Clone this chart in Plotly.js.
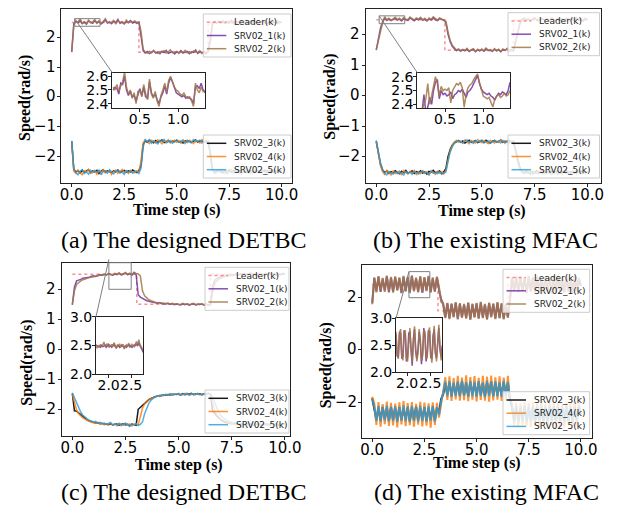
<!DOCTYPE html>
<html>
<head>
<meta charset="utf-8">
<script src="https://cdn.plot.ly/plotly-3.0.1.min.js"></script>
<style>html,body{margin:0;padding:0;background:#fff;}#chart{width:618px;height:506px;}</style>
</head>
<body>
<div id="chart"></div>
<script>
// ---------- data ----------
const SERIES_NAMES = ['Leader(k)', 'SRV02_1(k)', 'SRV02_2(k)', 'SRV02_3(k)', 'SRV02_4(k)', 'SRV02_5(k)'];
const CAPTIONS = ['(a) The designed DETBC', '(b) The existing MFAC', '(c) The designed DETBC', '(d) The existing MFAC'];
const X_TITLE = 'Time step (s)';
const Y_TITLE = 'Speed(rad/s)';
const X_TICKS = [0, 2.5, 5, 7.5, 10];
const X_TICKTEXT = ['0.0', '2.5', '5.0', '7.5', '10.0'];
const Y_TICKS_1 = [-2, -1, 0, 1, 2];
const Y_TICKTEXT_1 = ['\u22122', '\u22121', '0', '1', '2'];
const Y_TICKS_2 = [-2, 0, 2];
const Y_TICKTEXT_2 = ['\u22122', '0', '2'];
const INSET_X_TICKS_AB = [0.5, 1.0];
const INSET_X_TICKTEXT_AB = ['0.5', '1.0'];
const INSET_Y_TICKS_AB = [2.4, 2.5, 2.6];
const INSET_Y_TICKTEXT_AB = ['2.4', '2.5', '2.6'];
const INSET_X_TICKS_CD = [2.0, 2.5];
const INSET_X_TICKTEXT_CD = ['2.0', '2.5'];
const INSET_Y_TICKS_CD = [2.0, 2.5, 3.0];
const INSET_Y_TICKTEXT_CD = ['2.0', '2.5', '3.0'];

// time axis: 0.0 .. 10.0 s, step 0.1 s
const T = Array.from({length: 101}, (_, i) => +(i * 0.1).toFixed(1));
// inset time axes (step 0.025 s)
const T_INSET_AB = Array.from({length: 49}, (_, k) => +(0.15 + k * 0.025).toFixed(3));
const T_INSET_C = Array.from({length: 43}, (_, k) => +(1.72 + k * 0.025).toFixed(3));
const T_INSET_D = Array.from({length: 41}, (_, k) => +(1.76 + k * 0.025).toFixed(3));

// leader (square reference)
const LEADER_VAL = [2.5, 2.5, 1.5, 1.5, 2.5, 2.5];
const LEADER_T_A = [0, 3.2, 3.2, 6.5, 6.5, 10];
const LEADER_T_B = [0, 3.25, 3.25, 6.5, 6.5, 10];
const LEADER_T_C = [0, 3.03, 3.03, 6.5, 6.5, 10];
const LEADER_T_D = [0, 3.15, 3.15, 6.5, 6.5, 10];

// ---- panel (a) ----
const A1 = [1.50,2.46,2.53,2.49,2.57,2.46,2.52,2.44,2.55,2.50, 2.47,2.56,2.49,2.53,2.45,2.51,2.58,2.48,2.52,2.46, 2.54,2.49,2.60,2.47,2.51,2.45,2.53,2.50,2.56,2.48, 2.52,2.47,2.50,2.05,1.55,1.47,1.52,1.45,1.50,1.54, 1.47,1.51,1.45,1.53,1.49,1.56,1.46,1.50,1.52,1.44, 1.51,1.48,1.55,1.47,1.50,1.53,1.45,1.51,1.49,1.57, 1.46,1.52,1.48,1.50,1.45,1.53,1.95,2.45,2.52,2.47, 2.55,2.49,2.51,2.46,2.53,2.48,2.57,2.50,2.45,2.52, 2.49,2.54,2.47,2.51,2.46,2.55,2.50,2.48,2.53,2.47, 2.52,2.49,2.56,2.46,2.51,2.48,2.54,2.50,2.47,2.52,2.50];
const A2 = [1.52,2.40,2.55,2.51,2.62,2.48,2.50,2.46,2.58,2.49, 2.52,2.60,2.47,2.55,2.48,2.53,2.63,2.50,2.49,2.51, 2.57,2.46,2.55,2.50,2.53,2.47,2.58,2.49,2.52,2.51, 2.55,2.50,2.52,2.20,1.60,1.50,1.47,1.53,1.48,1.56, 1.49,1.46,1.52,1.50,1.55,1.47,1.51,1.58,1.48,1.50, 1.53,1.46,1.51,1.49,1.56,1.48,1.52,1.47,1.54,1.50, 1.48,1.55,1.46,1.52,1.49,1.51,1.85,2.42,2.55,2.49, 2.52,2.47,2.56,2.50,2.48,2.54,2.51,2.46,2.55,2.49, 2.53,2.48,2.51,2.57,2.49,2.50,2.46,2.54,2.52,2.48, 2.50,2.55,2.47,2.52,2.49,2.53,2.48,2.51,2.56,2.49,2.51];
const A3 = [-1.50,-2.45,-2.52,-2.48,-2.56,-2.47,-2.53,-2.50,-2.45,-2.55, -2.49,-2.52,-2.47,-2.58,-2.50,-2.46,-2.53,-2.49,-2.51,-2.55, -2.48,-2.52,-2.46,-2.54,-2.50,-2.47,-2.53,-2.49,-2.52,-2.46, -2.51,-2.55,-2.48,-2.30,-1.60,-1.48,-1.53,-1.46,-1.51,-1.55, -1.47,-1.52,-1.49,-1.45,-1.54,-1.50,-1.47,-1.53,-1.49,-1.51, -1.46,-1.52,-1.50,-1.55,-1.48,-1.51,-1.47,-1.53,-1.49,-1.45, -1.52,-1.50,-1.47,-1.53,-1.49,-1.51,-1.90,-2.44,-2.53,-2.48, -2.51,-2.47,-2.55,-2.49,-2.52,-2.46,-2.53,-2.50,-2.48,-2.54, -2.49,-2.52,-2.47,-2.51,-2.55,-2.48,-2.50,-2.53,-2.46,-2.52, -2.49,-2.51,-2.47,-2.54,-2.50,-2.48,-2.53,-2.49,-2.52,-2.47,-2.50];
const A4 = [-1.52,-2.50,-2.58,-2.46,-2.55,-2.62,-2.49,-2.53,-2.44,-2.57, -2.51,-2.47,-2.60,-2.49,-2.54,-2.45,-2.56,-2.52,-2.48,-2.61, -2.50,-2.46,-2.57,-2.51,-2.44,-2.55,-2.49,-2.58,-2.47,-2.53, -2.56,-2.48,-2.52,-2.15,-1.55,-1.44,-1.52,-1.57,-1.46,-1.50, -1.55,-1.45,-1.51,-1.58,-1.47,-1.52,-1.44,-1.55,-1.50,-1.46, -1.53,-1.48,-1.56,-1.45,-1.51,-1.54,-1.47,-1.50,-1.57,-1.46, -1.51,-1.55,-1.44,-1.50,-1.53,-1.48,-2.00,-2.50,-2.47,-2.56, -2.49,-2.53,-2.46,-2.58,-2.50,-2.52,-2.45,-2.55,-2.51,-2.48, -2.57,-2.49,-2.53,-2.46,-2.51,-2.56,-2.48,-2.52,-2.47,-2.55, -2.50,-2.46,-2.54,-2.49,-2.52,-2.57,-2.47,-2.51,-2.53,-2.48,-2.50];
const A5 = [-1.48,-2.42,-2.55,-2.62,-2.50,-2.45,-2.58,-2.52,-2.60,-2.47, -2.55,-2.49,-2.53,-2.46,-2.62,-2.51,-2.48,-2.57,-2.45,-2.53, -2.59,-2.50,-2.47,-2.56,-2.52,-2.61,-2.48,-2.54,-2.50,-2.57, -2.49,-2.52,-2.58,-2.40,-1.70,-1.45,-1.50,-1.44,-1.56,-1.48, -1.52,-1.58,-1.46,-1.50,-1.43,-1.55,-1.51,-1.47,-1.56,-1.49, -1.45,-1.53,-1.50,-1.47,-1.57,-1.46,-1.52,-1.55,-1.44,-1.51, -1.49,-1.46,-1.55,-1.51,-1.47,-1.54,-1.85,-2.40,-2.58,-2.50, -2.46,-2.55,-2.51,-2.48,-2.60,-2.49,-2.53,-2.47,-2.56,-2.50, -2.52,-2.58,-2.46,-2.54,-2.49,-2.51,-2.57,-2.47,-2.53,-2.50, -2.55,-2.48,-2.52,-2.46,-2.57,-2.51,-2.49,-2.54,-2.47,-2.52,-2.50];
const INSET_A1 = [2.50,2.52,2.51,2.47,2.55,2.54,2.60,2.50,2.46,2.49, 2.45,2.46,2.42,2.47,2.51,2.46,2.52,2.45,2.44,2.56, 2.48,2.45,2.47,2.43,2.40,2.45,2.48,2.53,2.47,2.55, 2.59,2.56,2.51,2.48,2.47,2.46,2.45,2.46,2.44,2.45, 2.44,2.43,2.40,2.52,2.53,2.51,2.55,2.50,2.48];
const INSET_A2 = [2.52,2.50,2.54,2.49,2.53,2.56,2.63,2.52,2.47,2.50, 2.44,2.48,2.40,2.49,2.50,2.45,2.54,2.47,2.43,2.58, 2.47,2.44,2.49,2.42,2.38,2.46,2.50,2.55,2.48,2.57, 2.60,2.55,2.52,2.50,2.49,2.47,2.46,2.48,2.45,2.44, 2.45,2.42,2.38,2.55,2.50,2.48,2.52,2.49,2.50];

// ---- panel (b) ----
const B1 = [1.50,1.88,2.22,2.43,2.56,2.48,2.53,2.47,2.51,2.55, 2.49,2.52,2.46,2.54,2.50,2.48,2.56,2.51,2.47,2.53, 2.50,2.55,2.48,2.52,2.46,2.53,2.49,2.57,2.50,2.47, 2.54,2.51,2.49,2.40,2.02,1.78,1.63,1.55,1.49,1.52, 1.47,1.51,1.48,1.54,1.46,1.50,1.53,1.45,1.51,1.48, 1.52,1.47,1.55,1.49,1.50,1.46,1.53,1.48,1.51,1.45, 1.52,1.49,1.54,1.47,1.50,1.48,1.80,2.15,2.38,2.49, 2.54,2.48,2.52,2.46,2.51,2.55,2.49,2.47,2.53,2.50, 2.48,2.52,2.46,2.55,2.50,2.47,2.53,2.49,2.51,2.46, 2.54,2.50,2.48,2.52,2.47,2.55,2.49,2.51,2.46,2.53,2.50];
const B2 = [1.52,1.82,2.18,2.40,2.60,2.50,2.55,2.49,2.53,2.58, 2.51,2.55,2.48,2.57,2.52,2.50,2.59,2.53,2.49,2.56, 2.52,2.58,2.50,2.55,2.48,2.56,2.51,2.60,2.53,2.49, 2.56,2.53,2.50,2.45,2.10,1.82,1.66,1.57,1.51,1.54, 1.48,1.53,1.50,1.56,1.47,1.52,1.55,1.46,1.53,1.49, 1.54,1.48,1.57,1.50,1.52,1.47,1.55,1.49,1.53,1.46, 1.54,1.50,1.56,1.48,1.52,1.49,1.76,2.10,2.35,2.50, 2.56,2.50,2.54,2.48,2.53,2.57,2.51,2.49,2.55,2.52, 2.50,2.54,2.48,2.57,2.52,2.49,2.55,2.51,2.53,2.48, 2.56,2.52,2.50,2.54,2.49,2.57,2.51,2.53,2.48,2.55,2.52];
const B3 = [-1.50,-1.90,-2.25,-2.44,-2.52,-2.47,-2.55,-2.49,-2.53,-2.46, -2.51,-2.56,-2.48,-2.52,-2.45,-2.54,-2.50,-2.47,-2.55,-2.49, -2.52,-2.46,-2.54,-2.50,-2.57,-2.48,-2.51,-2.45,-2.53,-2.50, -2.47,-2.55,-2.50,-2.38,-2.00,-1.76,-1.62,-1.54,-1.50,-1.47, -1.52,-1.48,-1.55,-1.49,-1.46,-1.53,-1.50,-1.47,-1.54,-1.51, -1.48,-1.53,-1.46,-1.51,-1.55,-1.49,-1.47,-1.52,-1.50,-1.45, -1.53,-1.49,-1.51,-1.47,-1.54,-1.50,-1.78,-2.12,-2.36,-2.48, -2.53,-2.47,-2.51,-2.56,-2.49,-2.52,-2.46,-2.54,-2.50,-2.48, -2.55,-2.49,-2.52,-2.46,-2.53,-2.50,-2.47,-2.55,-2.49,-2.51, -2.46,-2.53,-2.50,-2.48,-2.54,-2.49,-2.52,-2.47,-2.55,-2.50,-2.50];
const B4 = [-1.48,-1.95,-2.30,-2.50,-2.58,-2.45,-2.52,-2.60,-2.47,-2.55, -2.49,-2.53,-2.59,-2.46,-2.51,-2.57,-2.48,-2.54,-2.45,-2.58, -2.50,-2.56,-2.47,-2.53,-2.49,-2.61,-2.46,-2.52,-2.58,-2.48, -2.54,-2.49,-2.57,-2.45,-2.08,-1.80,-1.64,-1.52,-1.46,-1.53, -1.49,-1.56,-1.45,-1.52,-1.58,-1.47,-1.51,-1.55,-1.44,-1.50, -1.54,-1.47,-1.52,-1.57,-1.46,-1.50,-1.55,-1.48,-1.53,-1.44, -1.51,-1.56,-1.47,-1.53,-1.49,-1.55,-1.82,-2.18,-2.40,-2.52, -2.47,-2.55,-2.50,-2.58,-2.46,-2.53,-2.49,-2.57,-2.45,-2.52, -2.56,-2.48,-2.53,-2.59,-2.47,-2.51,-2.55,-2.46,-2.58,-2.50, -2.53,-2.47,-2.56,-2.49,-2.52,-2.58,-2.46,-2.54,-2.50,-2.55,-2.50];
const B5 = [-1.46,-1.85,-2.20,-2.42,-2.55,-2.60,-2.48,-2.53,-2.57,-2.50, -2.56,-2.47,-2.52,-2.60,-2.49,-2.55,-2.51,-2.58,-2.48,-2.53, -2.57,-2.50,-2.46,-2.55,-2.52,-2.59,-2.48,-2.54,-2.51,-2.56, -2.50,-2.58,-2.53,-2.50,-2.15,-1.85,-1.68,-1.56,-1.50,-1.46, -1.51,-1.55,-1.48,-1.45,-1.53,-1.50,-1.56,-1.47,-1.52,-1.49, -1.45,-1.54,-1.50,-1.48,-1.56,-1.51,-1.46,-1.53,-1.49,-1.55, -1.47,-1.52,-1.50,-1.55,-1.48,-1.53,-1.75,-2.10,-2.38,-2.50, -2.56,-2.49,-2.53,-2.47,-2.58,-2.51,-2.55,-2.48,-2.52,-2.57, -2.50,-2.54,-2.47,-2.56,-2.52,-2.49,-2.58,-2.51,-2.53,-2.48, -2.55,-2.50,-2.57,-2.52,-2.48,-2.54,-2.51,-2.56,-2.49,-2.53,-2.50];
const INSET_B1 = [2.30,2.33,2.35,2.47,2.34,2.38,2.45,2.40,2.50,2.56, 2.58,2.44,2.50,2.47,2.48,2.46,2.47,2.49,2.44,2.47, 2.48,2.50,2.49,2.51,2.48,2.45,2.49,2.50,2.52,2.55, 2.58,2.61,2.55,2.51,2.49,2.48,2.47,2.48,2.46,2.45, 2.43,2.46,2.48,2.47,2.49,2.48,2.47,2.50,2.56];
const INSET_B2 = [2.32,2.28,2.36,2.40,2.44,2.55,2.40,2.46,2.52,2.60, 2.55,2.46,2.53,2.50,2.51,2.50,2.52,2.41,2.50,2.53, 2.55,2.54,2.56,2.52,2.38,2.47,2.52,2.54,2.55,2.58, 2.60,2.62,2.56,2.50,2.46,2.45,2.44,2.45,2.42,2.38, 2.44,2.46,2.47,2.45,2.46,2.48,2.46,2.47,2.50];

// ---- panel (c) ----
const C1 = [1.48,2.08,2.28,2.30,2.33,2.37,2.38,2.41,2.40,2.44, 2.45,2.43,2.47,2.49,2.46,2.50,2.48,2.52,2.49,2.47, 2.51,2.49,2.53,2.48,2.50,2.54,2.49,2.52,2.47,2.55, 2.50,1.82,1.74,1.69,1.65,1.62,1.60,1.58,1.56,1.55, 1.54,1.56,1.52,1.53,1.51,1.54,1.50,1.52,1.49,1.51, 1.50,1.48,1.52,1.49,1.51,1.47,1.50,1.52,1.48,1.50, 1.49,1.51,1.47,1.50,1.46,1.49,2.10,2.30,2.36,2.40, 2.43,2.45,2.44,2.47,2.46,2.49,2.48,2.50,2.47,2.51, 2.49,2.52,2.48,2.50,2.53,2.49,2.51,2.48,2.52,2.50, 2.49,2.53,2.48,2.51,2.50,2.52,2.47,2.51,2.49,2.52,2.50];
const C2 = [1.50,1.95,2.16,2.23,2.28,2.32,2.35,2.37,2.39,2.40, 2.42,2.44,2.45,2.47,2.48,2.50,2.47,2.53,2.50,2.49, 2.53,2.50,2.55,2.49,2.52,2.56,2.50,2.54,2.49,2.57, 2.53,2.51,2.45,1.95,1.78,1.70,1.65,1.62,1.59,1.57, 1.56,1.55,1.54,1.55,1.52,1.53,1.51,1.53,1.50,1.52, 1.51,1.49,1.53,1.50,1.52,1.48,1.51,1.53,1.49,1.51, 1.50,1.52,1.48,1.51,1.47,1.50,1.90,2.18,2.28,2.34, 2.38,2.41,2.43,2.45,2.46,2.48,2.47,2.50,2.49,2.52, 2.50,2.53,2.49,2.51,2.54,2.50,2.52,2.49,2.53,2.51, 2.50,2.54,2.49,2.52,2.51,2.53,2.48,2.52,2.50,2.53,2.51];
const C3 = [-1.47,-2.05,-2.06,-2.12,-2.20,-2.26,-2.31,-2.36,-2.39,-2.42, -2.44,-2.46,-2.45,-2.48,-2.47,-2.50,-2.49,-2.51,-2.48,-2.52, -2.50,-2.49,-2.53,-2.51,-2.48,-2.52,-2.50,-2.54,-2.49,-2.51, -2.53,-2.00,-1.93,-1.86,-1.79,-1.73,-1.68,-1.64,-1.60,-1.58, -1.56,-1.54,-1.55,-1.52,-1.53,-1.51,-1.52,-1.50,-1.51,-1.49, -1.50,-1.52,-1.48,-1.51,-1.49,-1.50,-1.47,-1.51,-1.49,-1.50, -1.48,-1.51,-1.49,-1.50,-1.47,-1.50,-2.05,-2.12,-2.22,-2.30, -2.36,-2.40,-2.43,-2.45,-2.46,-2.48,-2.47,-2.50,-2.49,-2.51, -2.50,-2.52,-2.49,-2.51,-2.50,-2.53,-2.49,-2.51,-2.50,-2.52, -2.49,-2.51,-2.50,-2.53,-2.48,-2.51,-2.50,-2.52,-2.49,-2.51,-2.50];
const C4 = [-1.50,-1.78,-2.02,-2.15,-2.24,-2.29,-2.33,-2.37,-2.40,-2.43, -2.45,-2.47,-2.44,-2.49,-2.46,-2.52,-2.48,-2.50,-2.47,-2.53, -2.49,-2.51,-2.47,-2.55,-2.50,-2.48,-2.52,-2.49,-2.56,-2.50, -2.48,-2.52,-2.25,-1.96,-1.83,-1.75,-1.69,-1.64,-1.61,-1.58, -1.57,-1.55,-1.53,-1.54,-1.51,-1.53,-1.49,-1.52,-1.50,-1.48, -1.51,-1.49,-1.52,-1.47,-1.50,-1.53,-1.48,-1.50,-1.51,-1.49, -1.52,-1.48,-1.50,-1.51,-1.49,-1.50,-1.80,-2.05,-2.18,-2.27, -2.33,-2.38,-2.41,-2.44,-2.46,-2.47,-2.49,-2.48,-2.51,-2.50, -2.52,-2.49,-2.51,-2.53,-2.48,-2.50,-2.52,-2.49,-2.51,-2.50, -2.53,-2.49,-2.50,-2.52,-2.48,-2.51,-2.50,-2.53,-2.49,-2.50,-2.50];
const C5 = [-1.45,-1.62,-1.80,-1.95,-2.10,-2.20,-2.27,-2.32,-2.36,-2.39, -2.42,-2.40,-2.45,-2.43,-2.48,-2.46,-2.51,-2.47,-2.44,-2.52, -2.49,-2.55,-2.47,-2.50,-2.53,-2.46,-2.51,-2.57,-2.49,-2.52, -2.48,-2.54,-2.50,-2.42,-2.15,-1.95,-1.80,-1.70,-1.63,-1.58, -1.55,-1.57,-1.52,-1.54,-1.50,-1.53,-1.48,-1.52,-1.49,-1.51, -1.47,-1.52,-1.49,-1.50,-1.46,-1.53,-1.50,-1.48,-1.51,-1.47, -1.50,-1.52,-1.48,-1.51,-1.47,-1.50,-1.62,-1.80,-1.98,-2.12, -2.22,-2.29,-2.34,-2.38,-2.42,-2.44,-2.46,-2.45,-2.48,-2.50, -2.47,-2.52,-2.49,-2.51,-2.48,-2.53,-2.50,-2.49,-2.52,-2.50, -2.48,-2.51,-2.53,-2.49,-2.50,-2.52,-2.47,-2.51,-2.50,-2.49,-2.50];
const INSET_C1 = [2.51,2.50,2.48,2.49,2.47,2.50,2.48,2.49,2.51,2.47, 2.50,2.52,2.48,2.49,2.47,2.50,2.53,2.48,2.46,2.49, 2.50,2.47,2.49,2.51,2.48,2.46,2.50,2.47,2.49,2.52, 2.48,2.50,2.47,2.49,2.51,2.50,2.53,2.49,2.55,2.50, 2.46,2.42,2.38];
const INSET_C2 = [2.48,2.46,2.50,2.47,2.52,2.49,2.51,2.56,2.48,2.50, 2.53,2.47,2.51,2.49,2.52,2.48,2.55,2.50,2.45,2.51, 2.49,2.53,2.47,2.50,2.52,2.44,2.49,2.51,2.48,2.54, 2.50,2.47,2.52,2.50,2.48,2.53,2.57,2.51,2.60,2.52, 2.49,2.45,2.41];

// ---- panel (d) ----
const D1 = [1.80,2.75,2.25,2.80,2.22,2.72,2.28,2.82,2.20,2.76, 2.24,2.78,2.30,2.74,2.18,2.80,2.26,2.77,2.21,2.83, 2.27,2.73,2.23,2.79,2.19,2.76,2.28,2.81,2.22,2.74, 2.25,2.78,2.30,1.95,1.75,1.25,1.78,1.22,1.75,1.28, 1.80,1.20,1.76,1.26,1.72,1.23,1.79,1.18,1.74,1.27, 1.77,1.22,1.81,1.25,1.73,1.19,1.78,1.28,1.75,1.21, 1.80,1.24,1.76,1.20,1.74,1.26,1.95,2.75,2.25,2.80, 2.22,2.77,2.27,2.74,2.20,2.81,2.25,2.76,2.23,2.79, 2.28,2.73,2.21,2.80,2.26,2.75,2.19,2.78,2.24,2.82, 2.27,2.74,2.22,2.79,2.25,2.76,2.20,2.81,2.28,2.73,2.45];
const D2 = [1.75,2.78,2.20,2.83,2.25,2.76,2.22,2.85,2.24,2.80, 2.19,2.82,2.27,2.78,2.21,2.84,2.23,2.80,2.18,2.86, 2.24,2.77,2.20,2.83,2.22,2.79,2.25,2.84,2.19,2.78, 2.22,2.81,2.40,1.85,1.78,1.22,1.80,1.18,1.78,1.25, 1.83,1.17,1.79,1.23,1.76,1.20,1.82,1.15,1.77,1.24, 1.80,1.19,1.84,1.22,1.76,1.16,1.81,1.25,1.78,1.18, 1.83,1.21,1.79,1.17,1.77,1.23,1.90,2.78,2.22,2.83, 2.19,2.80,2.24,2.77,2.17,2.84,2.22,2.79,2.20,2.82, 2.25,2.76,2.18,2.83,2.23,2.78,2.16,2.81,2.21,2.85, 2.24,2.77,2.19,2.82,2.22,2.79,2.17,2.84,2.25,2.76,2.50];
const D3 = [-1.85,-2.20,-2.68,-2.22,-2.70,-2.18,-2.66,-2.24,-2.72,-2.20, -2.67,-2.23,-2.71,-2.19,-2.69,-2.25,-2.65,-2.21,-2.73,-2.22, -2.68,-2.18,-2.70,-2.24,-2.66,-2.20,-2.72,-2.23,-2.67,-2.19, -2.71,-2.22,-2.40,-1.90,-1.70,-1.28,-1.72,-1.25,-1.75,-1.30, -1.70,-1.26,-1.74,-1.22,-1.73,-1.29,-1.76,-1.24,-1.71,-1.27, -1.75,-1.23,-1.72,-1.28,-1.77,-1.25,-1.70,-1.21,-1.74,-1.26, -1.73,-1.29,-1.75,-1.24,-1.71,-1.27,-1.90,-2.22,-2.68,-2.20, -2.71,-2.24,-2.66,-2.19,-2.70,-2.23,-2.68,-2.21,-2.72,-2.25, -2.67,-2.20,-2.69,-2.22,-2.73,-2.18,-2.66,-2.24,-2.70,-2.21, -2.68,-2.23,-2.71,-2.19,-2.67,-2.25,-2.70,-2.22,-2.69,-2.20,-2.45];
const D4 = [-1.80,-2.05,-2.88,-2.00,-2.95,-2.08,-2.85,-1.98,-2.92,-2.03, -2.90,-2.06,-2.97,-2.01,-2.86,-1.96,-2.93,-2.04,-2.89,-2.00, -2.95,-2.07,-2.87,-1.99,-2.94,-2.02,-2.91,-2.05,-2.98,-2.01, -2.88,-2.03,-2.60,-2.00,-1.60,-1.05,-1.92,-1.02,-1.96,-1.08, -1.90,-1.00,-1.95,-1.06,-1.93,-0.98,-1.97,-1.04,-1.91,-1.01, -1.98,-1.07,-1.92,-1.00,-1.95,-1.03,-1.99,-0.99,-1.94,-1.05, -1.91,-1.02,-1.96,-1.06,-1.93,-1.00,-1.95,-2.05,-2.90,-2.02, -2.94,-2.06,-2.88,-1.99,-2.92,-2.04,-2.96,-2.01,-2.87,-2.05, -2.93,-2.00,-2.90,-2.07,-2.95,-2.02,-2.89,-1.98,-2.94,-2.03, -2.91,-2.06,-2.97,-2.00,-2.88,-2.04,-2.93,-2.01,-2.90,-2.05,-2.45];
const D5 = [-1.90,-2.17,-2.72,-2.15,-2.75,-2.20,-2.70,-2.14,-2.74,-2.18, -2.73,-2.16,-2.76,-2.19,-2.71,-2.13,-2.74,-2.17,-2.77,-2.15, -2.72,-2.18,-2.75,-2.14,-2.73,-2.19,-2.76,-2.16,-2.71,-2.15, -2.74,-2.20,-2.50,-1.95,-1.65,-1.22,-1.78,-1.20,-1.80,-1.25, -1.77,-1.21,-1.79,-1.18,-1.76,-1.24,-1.81,-1.19,-1.78,-1.23, -1.80,-1.20,-1.77,-1.25,-1.82,-1.18,-1.76,-1.22,-1.79,-1.21, -1.78,-1.24,-1.80,-1.19,-1.77,-1.22,-1.92,-2.18,-2.74,-2.16, -2.75,-2.20,-2.71,-2.14,-2.76,-2.18,-2.73,-2.15,-2.77,-2.19, -2.72,-2.16,-2.74,-2.20,-2.78,-2.14,-2.71,-2.17,-2.75,-2.18, -2.73,-2.19,-2.76,-2.15,-2.72,-2.20,-2.75,-2.16,-2.74,-2.18,-2.45];
const INSET_D1 = [2.70,2.30,2.28,2.75,2.72,2.25,2.30,2.78,2.70,2.20, 2.28,2.72,2.76,2.32,2.12,2.62,2.80,2.38,2.25,2.42, 2.75,2.55,2.15,2.36,2.82,2.68,2.20,2.35,2.78,2.76, 2.28,2.25,2.68,2.80,2.35,2.26,2.60,2.82,2.42,2.28, 2.50];
const INSET_D2 = [2.75,2.35,2.25,2.70,2.80,2.30,2.22,2.72,2.78,2.28, 2.20,2.65,2.82,2.40,2.18,2.55,2.85,2.45,2.20,2.35, 2.80,2.62,2.22,2.30,2.78,2.75,2.25,2.28,2.72,2.83, 2.35,2.18,2.60,2.86,2.42,2.20,2.52,2.88,2.50,2.22, 2.45];

// ---------- styling / layout ----------
const W = 618, H = 506;
const COLORS = ['rgba(255,70,70,0.6)', 'rgba(112,48,160,0.85)', 'rgba(160,118,70,0.85)',
                'rgba(0,0,0,0.9)', 'rgba(255,127,14,0.85)', 'rgba(40,155,220,0.8)'];

const PANELS = [
  {id: '',  ins: '5', px: [61, 292],    py: [9, 182.7],    xr: [-0.51, 10.49], yr: [-2.887, 2.951], lw: 1.5,
   S: [A1, A2, A3, A4, A5], LT: LEADER_T_A, IT: T_INSET_AB, IS: [INSET_A1, INSET_A2],
   ipx: [112.3, 205], ipy: [72.7, 107.7], ixr: [0.14, 1.35], iyr: [2.371, 2.626],
   yt: Y_TICKS_1, ytt: Y_TICKTEXT_1, ixt: INSET_X_TICKS_AB, ixtt: INSET_X_TICKTEXT_AB, iyt: INSET_Y_TICKS_AB, iytt: INSET_Y_TICKTEXT_AB,
   lg: {L: 203.3, R: 291, tops: [14, 135]},
   cap: [184, 240], xt: [177, 210], yti: [25, 98]},
  {id: '2', ins: '6', px: [365.7, 601.3], py: [9, 183],    xr: [-0.5, 10.66], yr: [-2.864, 2.854], lw: 1.5,
   S: [B1, B2, B3, B4, B5], LT: LEADER_T_B, IT: T_INSET_AB, IS: [INSET_B1, INSET_B2],
   ipx: [417.3, 510], ipy: [72.7, 108.3], ixr: [0.138, 1.349], iyr: [2.371, 2.629],
   yt: Y_TICKS_1, ytt: Y_TICKTEXT_1, ixt: INSET_X_TICKS_AB, ixtt: INSET_X_TICKTEXT_AB, iyt: INSET_Y_TICKS_AB, iytt: INSET_Y_TICKTEXT_AB,
   lg: {L: 508, R: 599.5, tops: [12.7, 135]},
   cap: [485.5, 240], xt: [482, 210.7], yti: [329.7, 97]},
  {id: '3', ins: '7', px: [61.7, 290],  py: [262.7, 436],  xr: [-0.5, 10.24], yr: [-2.89, 2.887], lw: 1.5,
   S: [C1, C2, C3, C4, C5], LT: LEADER_T_C, IT: T_INSET_C, IS: [INSET_C1, INSET_C2],
   ipx: [96, 143.3], ipy: [316.7, 374.3], ixr: [1.72, 2.77], iyr: [2.0, 3.0],
   yt: Y_TICKS_1, ytt: Y_TICKTEXT_1, ixt: INSET_X_TICKS_CD, ixtt: INSET_X_TICKTEXT_CD, iyt: INSET_Y_TICKS_CD, iytt: INSET_Y_TICKTEXT_CD,
   lg: {L: 205, R: 289, tops: [267.3, 390]},
   cap: [183.5, 492], xt: [179, 465], yti: [26.7, 363]},
  {id: '4', ins: '8', px: [362, 592],   py: [265, 437.7],  xr: [-0.49, 10.53], yr: [-3.369, 3.254], lw: 2,
   S: [D1, D2, D3, D4, D5], LT: LEADER_T_D, IT: T_INSET_D, IS: [INSET_D1, INSET_D2],
   ipx: [396, 442.3], ipy: [318.3, 372.3], ixr: [1.76, 2.76], iyr: [2.0, 3.0],
   yt: Y_TICKS_2, ytt: Y_TICKTEXT_2, ixt: INSET_X_TICKS_CD, ixtt: INSET_X_TICKTEXT_CD, iyt: INSET_Y_TICKS_CD, iytt: INSET_Y_TICKTEXT_CD,
   lg: {L: 503, R: 589.7, tops: [269.3, 391.7]},
   cap: [486.3, 492], xt: [477, 463.3], yti: [326.3, 365]}
];

const fx = p => p / W;
const fy = p => 1 - p / H;
const domX = r => [fx(r[0]), fx(r[1])];
const domY = r => [fy(r[1]), fy(r[0])];
// convert a data point of an axis box into paper coords
function toPaper(px, py, xr, yr, x, y) {
  return [fx(px[0] + (x - xr[0]) / (xr[1] - xr[0]) * (px[1] - px[0])),
          fy(py[1] - (y - yr[0]) / (yr[1] - yr[0]) * (py[1] - py[0]))];
}

const FONT_TICK = {family: 'DejaVu Sans', size: 15, color: '#000'};
const FONT_TICK_IN = {family: 'DejaVu Sans', size: 14, color: '#000'};
const FONT_AXTITLE = {family: 'Liberation Serif', size: 16, color: '#000'};
function axisBase(extra) {
  return Object.assign({
    showline: true, mirror: true, linecolor: '#222', linewidth: 1,
    ticks: 'outside', ticklen: 3, tickwidth: 1, tickcolor: '#222',
    showgrid: false, zeroline: false, tickfont: FONT_TICK, tickangle: 0,
    tickmode: 'array', fixedrange: true, automargin: false, ticklabeloverflow: 'allow'
  }, extra);
}

const traces = [];
const layout = {
  width: W, height: H, margin: {l: 0, r: 0, t: 0, b: 0},
  paper_bgcolor: '#ffffff', plot_bgcolor: '#fff',
  showlegend: false, hovermode: false,
  shapes: [], annotations: []
};

PANELS.forEach(p => {
  const xa = 'x' + p.id, ya = 'y' + p.id;
  const xi = 'x' + p.ins, yi = 'y' + p.ins;
  // main axes (y tick marks from the axis; their labels are written next to them below)
  layout['xaxis' + p.id] = axisBase({domain: domX(p.px), range: p.xr, anchor: ya, tickvals: X_TICKS, ticktext: X_TICKTEXT, ticklabelstandoff: -5});
  layout['yaxis' + p.id] = axisBase({domain: domY(p.py), range: p.yr, anchor: xa, tickvals: p.yt, showticklabels: false});
  // inset axes
  layout['xaxis' + p.ins] = axisBase({domain: domX(p.ipx), range: p.ixr, anchor: yi, tickvals: p.ixt, ticktext: p.ixtt, ticklabelstandoff: -5, tickfont: FONT_TICK_IN});
  layout['yaxis' + p.ins] = axisBase({domain: domY(p.ipy), range: p.iyr, anchor: xi, tickvals: p.iyt, ticktext: p.iytt, ticklabelstandoff: -3, tickfont: FONT_TICK_IN});

  // leader
  traces.push({type: 'scatter', mode: 'lines', x: p.LT, y: LEADER_VAL, xaxis: xa, yaxis: ya,
    name: SERIES_NAMES[0], line: {color: COLORS[0], width: 1.5, dash: 'dot'}});
  // followers
  p.S.forEach((s, k) => {
    traces.push({type: 'scatter', mode: 'lines', x: T, y: s, xaxis: xa, yaxis: ya,
      name: SERIES_NAMES[k + 1], line: {color: COLORS[k + 1], width: p.lw}});
  });
  // inset
  p.IS.forEach((s, k) => {
    traces.push({type: 'scatter', mode: 'lines', x: p.IT, y: s, xaxis: xi, yaxis: yi,
      name: SERIES_NAMES[k + 1] + ' (zoom)', line: {color: COLORS[k + 1], width: 1.5}});
  });

  // zoom indicator box (clipped to the main axes) and connector line
  const top = Math.min(p.iyr[1], p.yr[1]);
  const b0 = toPaper(p.px, p.py, p.xr, p.yr, p.ixr[0], p.iyr[0]);
  const b1 = toPaper(p.px, p.py, p.xr, p.yr, p.ixr[1], top);
  layout.shapes.push({type: 'rect', xref: 'paper', yref: 'paper', x0: b0[0], y0: b0[1], x1: b1[0], y1: b1[1],
    line: {color: '#808080', width: 1}, fillcolor: 'rgba(0,0,0,0)', layer: 'above'});
  const c0 = toPaper(p.px, p.py, p.xr, p.yr, p.ixr[0], p.iyr[1]);
  layout.shapes.push({type: 'line', xref: 'paper', yref: 'paper', x0: c0[0], y0: c0[1],
    x1: fx(p.ipx[0]), y1: fy(p.ipy[0]), line: {color: '#808080', width: 1}, layer: 'above'});

  // legends (two boxes per panel, matplotlib style)
  [[0, 1, 2], [3, 4, 5]].forEach((group, g) => {
    const t0 = p.lg.tops[g];
    layout.shapes.push({type: 'rect', xref: 'paper', yref: 'paper',
      x0: fx(p.lg.L), x1: fx(p.lg.R), y0: fy(t0), y1: fy(t0 + 43),
      line: {color: '#cccccc', width: 1}, fillcolor: 'rgba(255,255,255,0.8)', layer: 'above'});
    group.forEach((si, r) => {
      const yy = t0 + 8.3 + r * 13.2;
      layout.shapes.push({type: 'line', xref: 'paper', yref: 'paper',
        x0: fx(p.lg.L + 3.5), x1: fx(p.lg.L + 23), y0: fy(yy), y1: fy(yy),
        line: {color: COLORS[si], width: 1.5, dash: si === 0 ? 'dot' : 'solid'}, layer: 'above'});
      layout.annotations.push({text: SERIES_NAMES[si], xref: 'paper', yref: 'paper',
        x: fx(p.lg.L + 29), y: fy(yy), xanchor: 'left', yanchor: 'middle', showarrow: false,
        font: {family: 'DejaVu Sans', size: 9, color: '#222'}});
    });
  });
});

// texts: captions and axis titles
PANELS.forEach((p, i) => {
  layout.annotations.push({text: CAPTIONS[i], xref: 'paper', yref: 'paper', x: fx(p.cap[0]), y: fy(p.cap[1]),
    xanchor: 'center', yanchor: 'middle', showarrow: false, font: {family: 'Liberation Serif', size: 24, color: '#000'}});
  layout.annotations.push({text: '<b>' + X_TITLE + '</b>', xref: 'paper', yref: 'paper', x: fx(p.xt[0]), y: fy(p.xt[1]),
    xanchor: 'center', yanchor: 'middle', showarrow: false, font: FONT_AXTITLE});
  layout.annotations.push({text: '<b>' + Y_TITLE + '</b>', xref: 'paper', yref: 'paper', x: fx(p.yti[0]), y: fy(p.yti[1]),
    xanchor: 'center', yanchor: 'middle', textangle: -90, showarrow: false, font: FONT_AXTITLE});
});
// main y tick labels, placed at the axis' tick positions
PANELS.forEach(p => {
  p.yt.forEach((v, k) => {
    const pt = toPaper(p.px, p.py, p.xr, p.yr, p.xr[0], v);
    layout.annotations.push({text: p.ytt[k], xref: 'paper', yref: 'paper', x: fx(p.px[0] - 3.5), y: pt[1] + 0.5 / H,
      xanchor: 'right', yanchor: 'middle', showarrow: false, font: FONT_TICK});
  });
});

Plotly.newPlot('chart', traces, layout, {staticPlot: true, displayModeBar: false});
</script>
</body>
</html>
